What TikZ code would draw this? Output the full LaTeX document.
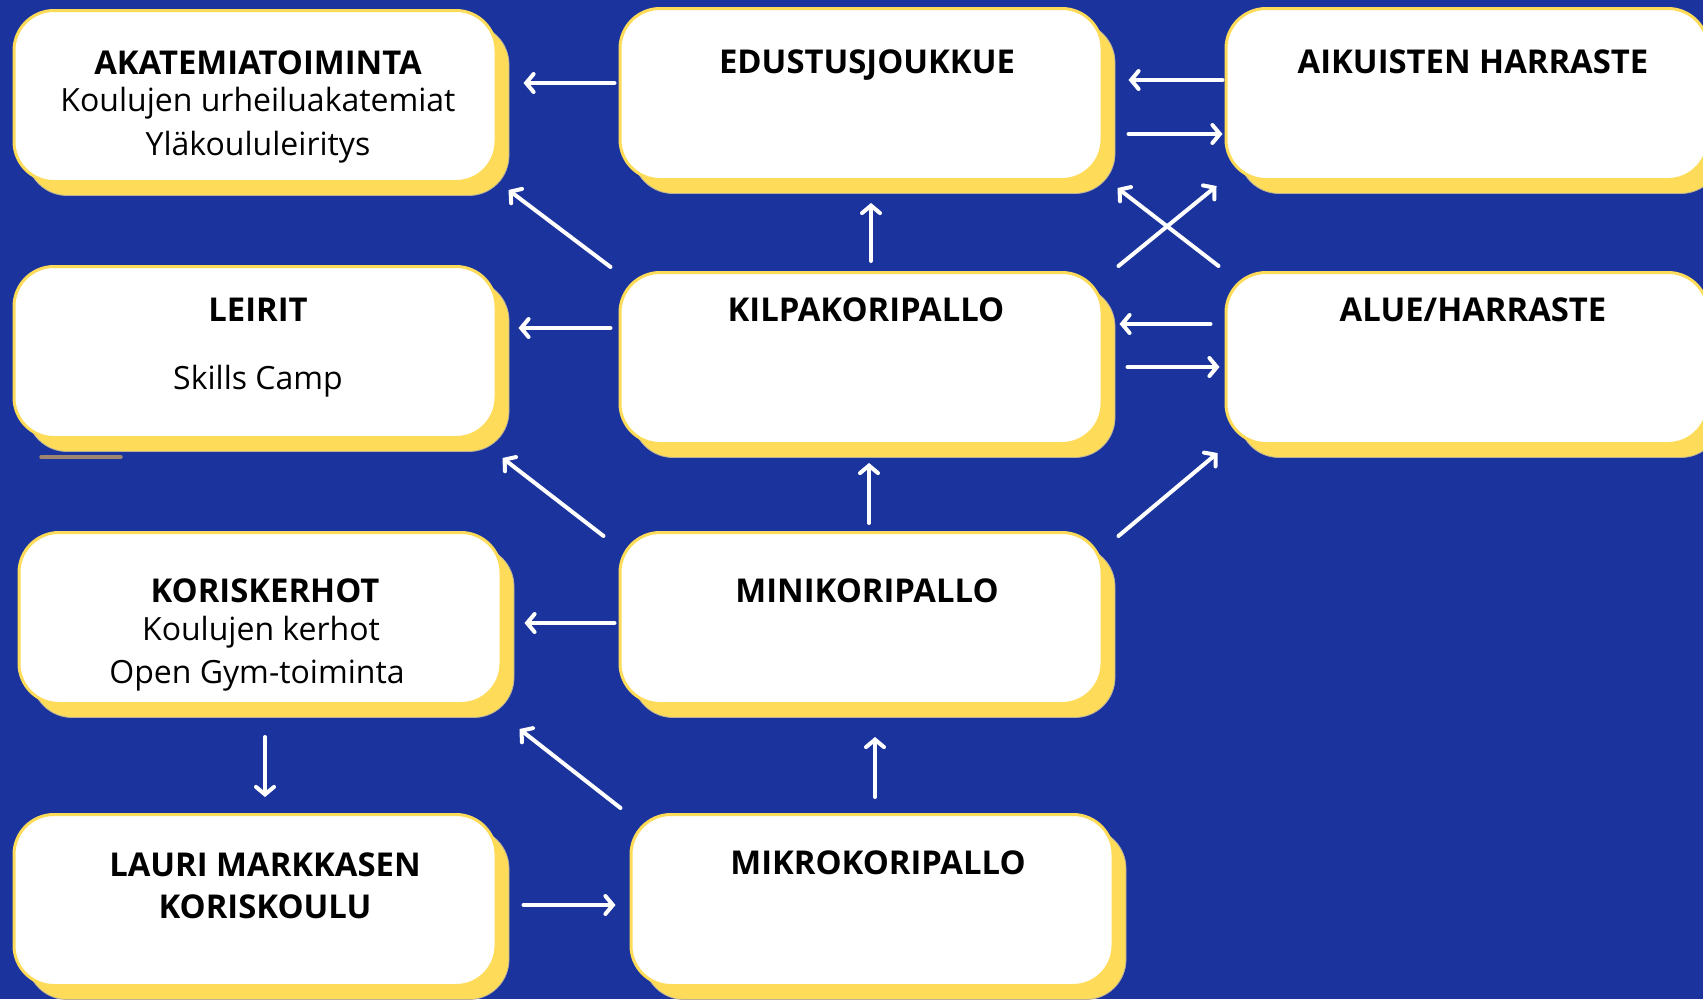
\documentclass[tikz,border=0pt]{standalone}
\usepackage{fontspec}
\setmainfont{Open Sans}
\usetikzlibrary{arrows.meta,calc,shadows}

\definecolor{bgblue}{HTML}{1B339C}
\definecolor{cardyellow}{HTML}{FEDC5A}
\definecolor{rimgray}{HTML}{B8B09A}
\definecolor{smudge}{HTML}{9C8670}

\begin{document}
\begin{tikzpicture}[x=1pt, y=-1pt] % 1pt = 1px of the layout, y runs downwards
\tikzstyle{card} = [draw=cardyellow, line width=3pt, fill=white, rounded corners=40pt,
  minimum width=482pt, minimum height=171pt, inner sep=0pt,
  drop shadow={shadow xshift=13pt, shadow yshift=-14pt, fill=cardyellow, draw=rimgray, line width=.8pt, opacity=1}]
\tikzstyle{title} = [anchor=base, inner sep=0pt, font=\bfseries\fontsize{32.8}{38}\selectfont]
\tikzstyle{entry} = [anchor=base, inner sep=0pt, font=\fontsize{32}{38}\selectfont]
\tikzstyle{link} = [draw=white, line width=4pt, line cap=round, -{Straight Barb[length=7.5pt, width=18pt, line cap=round]}]

\useasboundingbox (0,0) rectangle (1703,999);
\clip (0,0) rectangle (1703,999);
\fill[bgblue] (0,0) rectangle (1703,999);

% boxes
\node[card] (aka) at (255, 96) {};
\node[card] (edu) at (861, 94) {};
\node[card] (aikh) at (1467, 94) {};
\node[card] (leir) at (255, 352) {};
\node[card] (kilpa) at (861, 358) {};
\node[card] (alue) at (1467, 358) {};
\node[card] (kori) at (260, 618) {};
\node[card] (mini) at (861, 618) {};
\node[card] (lauri) at (255, 900) {};
\node[card] (mikro) at (872, 900) {};

\draw[line width=3.5pt, color=smudge, line cap=round] (41,457) -- (121,457);

% texts
\node[title] (aka-t) at (258, 74) {AKATEMIATOIMINTA};
\node[entry] (aka-1) at (258, 111) {Koulujen urheiluakatemiat};
\node[entry] (aka-2) at (258, 155) {Yläkoululeiritys};
\node[title] (edu-t) at (867, 73) {EDUSTUSJOUKKUE};
\node[title] (aikh-t) at (1473, 73) {AIKUISTEN HARRASTE};
\node[title] (leir-t) at (258, 321) {LEIRIT};
\node[entry] (leir-1) at (258, 389) {Skills Camp};
\node[title] (kilpa-t) at (866, 321) {KILPAKORIPALLO};
\node[title] (alue-t) at (1473, 321) {ALUE/HARRASTE};
\node[title] (kori-t) at (265, 602) {KORISKERHOT};
\node[entry] (kori-1) at (261, 640) {Koulujen kerhot};
\node[entry] (kori-2) at (257, 683) {Open Gym-toiminta};
\node[title] (mini-t) at (867, 602) {MINIKORIPALLO};
\node[title] (lauri-t) at (265, 876) {LAURI MARKKASEN};
\node[title] (lauri-2) at (265, 918) {KORISKOULU};
\node[title] (mikro-t) at (878, 874) {MIKROKORIPALLO};

% arrows
\draw[link] ($(edu.west)+(-4,-11)$) -- ($(aka.east)+(26,-13)$);
\draw[link] ($(aikh.west)+(-2,-14)$) -- ($(edu.east)+(25,-14)$);
\draw[link] ($(edu.east)+(25,40)$) -- ($(aikh.west)+(-2,40)$);
\draw[link] ($(kilpa.north west)+(-8,-4)$) -- ($(aka.south east)+(11,7)$);
\draw[link] ($(kilpa.north)+(10,-10)$) -- ($(edu.south)+(10,22)$);
\draw[link] ($(kilpa.north east)+(15,-5)$) -- ($(aikh.south west)+(-8,5)$);
\draw[link] ($(alue.north west)+(-6,-5)$) -- ($(edu.south east)+(14,7)$);
\draw[link] ($(kilpa.west)+(-8,-30)$) -- ($(leir.east)+(21,-24)$);
\draw[link] ($(alue.west)+(-14,-34)$) -- ($(kilpa.east)+(16,-34)$);
\draw[link] ($(kilpa.east)+(24,9)$) -- ($(alue.west)+(-5,9)$);
\draw[link] ($(mini.north west)+(-15,5)$) -- ($(leir.south east)+(5,19)$);
\draw[link] ($(mini.north)+(8,-8)$) -- ($(kilpa.south)+(8,18)$);
\draw[link] ($(mini.north east)+(15,5)$) -- ($(alue.south west)+(-7,8)$);
\draw[link] ($(mini.west)+(-4,5)$) -- ($(kori.east)+(22,5)$);
\draw[link] ($(kori.south)+(5,32)$) -- ($(lauri.north)+(10,-16)$);
\draw[link] ($(mikro.north west)+(-9,-5)$) -- ($(kori.south east)+(17,24)$);
\draw[link] ($(mikro.north)+(3,-16)$) -- ($(mini.south)+(14,32)$);
\draw[link] ($(lauri.east)+(26,5)$) -- ($(mikro.west)+(-14,5)$);
\end{tikzpicture}
\end{document}
